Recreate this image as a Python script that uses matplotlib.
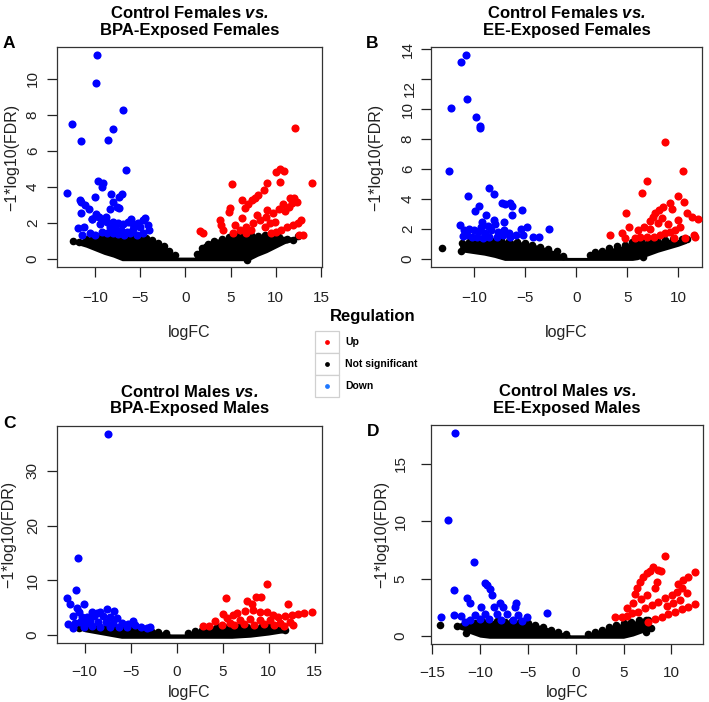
import matplotlib
matplotlib.use('Agg')
import matplotlib.pyplot as plt
from matplotlib.patches import Rectangle
from matplotlib.transforms import ScaledTranslation

plt.rcParams['font.family'] = ['Liberation Sans', 'DejaVu Sans']
plt.rcParams['mathtext.fontset'] = 'custom'
plt.rcParams['mathtext.rm'] = 'Liberation Sans'
plt.rcParams['mathtext.bf'] = 'Liberation Sans:bold'
plt.rcParams['mathtext.it'] = 'Liberation Sans:italic'
plt.rcParams['mathtext.bfit'] = 'Liberation Sans:bold:italic'

UP = '#ff0000'
DOWN = '#0000ff'
NS = '#000000'

# ---- panel A: Control Females vs. BPA-Exposed Females
a_down_x = [-9.74, -9.89, -6.95, -12.5, -8.05, -11.5, -8.6, -6.58, -13.05, -9.63, -9.1, -9.2,
            -8.2, -7.06, -7.35, -10.0, -11.7, -11.5, -8.05, -7.6, -11.1, -10.7, -11.5, -7.3,
            -8.3, -4.49, -4.67, -9.85, -9.56, -9.08, -8.71, -7.98, -7.43, -6.88, -6.32, -5.96,
            -5.22, -11.9, -11.2, -10.37, -9.45, -8.35, -7.79, -7.17, -6.51, -5.77, -5.04, -4.12,
            -4.04, -4.67, -10.55, -9.96, -9.26, -8.71, -7.98, -7.43, -6.8, -6.14, -5.4, -11.4,
            -9.9, -10.3, -8.8, -6.0, -5.5]
a_down_y = [11.29, 9.76, 8.25, 7.46, 7.2, 6.53, 6.58, 4.93, 3.68, 4.34, 4.2, 3.99,
            3.6, 3.58, 3.44, 3.42, 3.29, 3.16, 3.13, 2.85, 2.98, 2.76, 2.57, 2.8,
            2.76, 2.24, 2.15, 2.5, 2.32, 2.15, 2.06, 2.06, 2.0, 1.93, 2.06, 1.97,
            2.0, 1.73, 1.75, 2.19, 1.93, 1.78, 1.69, 1.6, 1.51, 1.64, 1.75, 1.88,
            1.6, 1.42, 1.42, 1.32, 1.51, 1.45, 1.42, 1.36, 1.3, 1.42, 1.32, 1.3,
            2.4, 2.2, 2.3, 2.2, 1.9]
a_up_x = [12.1, 14.04, 10.04, 10.48, 10.88, 10.44, 8.97, 5.15, 8.0, 8.68, 7.65, 7.35, 6.9,
          6.3, 6.54, 4.9, 4.8, 11.6, 11.95, 10.8, 10.4, 9.67, 8.93, 8.2, 7.46, 6.73, 5.99,
          5.26, 3.79, 3.97, 1.58, 1.95, 4.15, 12.8, 12.4, 11.9, 11.2, 10.6, 10.0, 9.5, 13.0,
          12.6, 9.3, 8.75, 7.3, 6.7, 11.4, 11.0, 11.8, 12.3, 5.5, 9.9, 9.0, 7.9, 6.2]
a_up_y = [7.28, 4.23, 4.82, 4.98, 4.85, 4.25, 4.23, 4.17, 3.53, 3.8, 3.38, 3.25, 3.07,
          3.25, 2.8, 2.8, 2.6, 3.35, 3.35, 3.03, 2.74, 2.52, 2.33, 2.15, 1.97, 1.78, 1.6,
          1.42, 2.15, 1.88, 1.56, 1.42, 1.6, 2.15, 2.0, 1.88, 1.75, 1.6, 1.5, 1.42, 1.32,
          1.3, 2.0, 1.78, 1.6, 1.45, 2.85, 2.65, 3.1, 3.15, 1.9, 2.05, 2.7, 2.45, 2.25]
a_ns_x = [-12.5, -12, -11, -10, -9, -8, -7, -6, -5, -4, -3, -2, -1.5, -1, 1, 1.5, 2, 3, 4,
          5, 6, 7, 8, 9, 10, 11, 12, 12.6]
a_ns_top = [1.0, 1.0, 1.15, 1.25, 1.3, 1.3, 1.3, 1.3, 1.25, 1.2, 0.95, 0.6, 0.35, 0.1, 0.1,
            0.55, 0.85, 1.05, 1.15, 1.25, 1.3, 1.3, 1.3, 1.3, 1.3, 1.25, 1.2, 1.25]
a_ns_low = [0.9, 0.8, 0.65, 0.45, 0.25, 0.1, -0.1, -0.1, -0.1, -0.1, -0.1, -0.1, -0.1, -0.1,
            -0.1, -0.1, -0.1, -0.1, -0.1, -0.1, -0.1, -0.1, 0.15, 0.35, 0.6, 0.85, 1.0, 1.15]
a_nsp_x = [-12.4, -11.8, -11, -10.2, -9.5, -8.7, -8, -7.2, -6.5, -5.8, -5, -4.4, -3.7, -3.0,
           -2.4, -1.8, -1.2, 1.3, 1.8, 2.5, 3.2, 4.0, 4.8, 5.6, 6.4, 7.2, 8, 8.8, 9.6, 10.4,
           11.2, 11.9, 12.5, 6.8]
a_nsp_y = [0.98, 0.95, 1.1, 1.2, 1.28, 1.3, 1.25, 1.3, 1.25, 1.3, 1.2, 1.15, 1.05, 0.9,
           0.7, 0.45, 0.2, 0.25, 0.6, 0.85, 1.0, 1.1, 1.2, 1.3, 1.25, 1.3, 1.25, 1.3, 1.25, 1.2,
           1.1, 1.05, 1.25, -0.05]

# ---- panel B: Control Females vs. EE-Exposed Females
b_down_x = [-10.78, -11.24, -10.65, -12.2, -9.77, -9.41, -9.38, -12.4, -8.53, -8.01, -10.55,
            -7.26, -6.94, -6.51, -6.29, -9.51, -9.87, -5.31, -6.29, -8.83, -8.08, -9.22, -7.04,
            -11.34, -2.7, -4.82, -5.4, -11.0, -10.5, -10.0, -9.5, -8.9, -8.3, -7.6, -7.1, -6.6,
            -5.9, -5.2, -4.2, -3.6, -10.7, -10.2, -9.7, -9.1, -8.5, -7.7, -7.2, -6.5, -11.1,
            -9.3, -8.6, -7.9]
b_down_y = [13.6, 13.16, 10.66, 10.1, 9.5, 8.9, 8.73, 5.85, 4.74, 4.34, 4.19,
            3.74, 3.66, 3.74, 3.54, 3.5, 3.21, 3.26, 2.9, 2.92, 2.59, 2.48, 2.48,
            2.26, 2.02, 2.15, 2.0, 1.93, 1.97, 1.93, 1.86, 1.71, 1.93, 1.82, 1.9, 1.71,
            1.6, 1.6, 1.44, 1.48, 1.6, 1.48, 1.44, 1.37, 1.44, 1.48, 1.6, 1.44, 1.55,
            2.1, 2.2, 2.3]
b_up_x = [8.7, 10.42, 6.9, 6.48, 9.93, 10.5, 9.19, 8.53, 8.05, 7.72, 7.49, 7.23, 4.89, 10.8,
          11.3, 11.9, 8.37, 6.58, 6.09, 5.21, 4.46, 3.26, 4.79, 10.16, 9.67, 9.19, 8.7, 8.2,
          7.56, 6.9, 6.25, 5.77, 11.47, 11.6, 10.6, 9.6, 9.0, 8.0, 7.2, 10.0, 9.4]
b_up_y = [7.8, 5.85, 5.18, 4.43, 4.23, 3.81, 3.74, 3.48, 3.26, 3.03, 2.81, 2.55, 3.03, 3.03,
          2.81, 2.64, 2.7, 2.15, 1.93, 2.1, 1.71, 1.57, 1.37, 2.15, 1.93, 1.82, 1.71, 1.6,
          1.48, 1.44, 1.44, 1.42, 1.6, 1.44, 1.37, 1.4, 2.3, 2.4, 2.0, 2.6, 3.3]
b_ns_x = [-11.4, -11, -10, -9, -8, -7, -6, -5, -4, -3, -2, -1.2, -0.8, 1.0, 1.5, 2, 3, 4, 5,
          5.5, 6, 7, 8, 9, 10, 10.8]
b_ns_top = [1.0, 1.15, 1.2, 1.25, 1.25, 1.25, 1.2, 1.1, 0.95, 0.75, 0.5, 0.2, 0.1, 0.1, 0.3,
            0.45, 0.65, 0.8, 0.95, 1.15, 1.2, 1.2, 1.25, 1.3, 1.3, 1.3]
b_ns_low = [0.5, 0.45, 0.35, 0.25, 0.1, -0.1, -0.1, -0.1, -0.1, -0.1, -0.1, -0.1, -0.1, -0.1,
            -0.1, -0.1, -0.1, -0.1, -0.1, -0.1, -0.05, 0.2, 0.45, 0.65, 0.85, 1.05]
b_nsp_x = [-13.1, -11.3, -11.2, -10.5, -9.8, -9, -8.2, -7.4, -6.6, -5.8, -5, -4.3, -3.5, -2.8,
           -1.9, -1.3, 1.3, 1.8, 2.5, 3.2, 4.0, 4.8, 5.5, 6.3, 7.1, 7.9, 8.7, 9.5, 10.3, 10.8,
           6.5]
b_nsp_y = [0.71, 0.5, 1.05, 1.15, 1.2, 1.25, 1.2, 1.25, 1.2, 1.15, 1.05, 0.95, 0.8, 0.65,
           0.5, 0.2, 0.25, 0.45, 0.55, 0.7, 0.85, 0.95, 1.15, 1.2, 1.2, 1.25, 1.25, 1.3, 1.3,
           1.3, 0.1]

# ---- panel C: Control Males vs. BPA-Exposed Males
c_down_x = [-7.43, -10.76, -10.98, -11.96, -11.6, -10.04, -10.87, -7.54, -6.78, -10.6, -9.24,
            -8.7, -8.33, -11.3, -10.3, -9.7, -8.95, -7.97, -7.25, -6.52, -4.78, -11.78, -11.05,
            -10.5, -9.86, -9.42, -8.5, -7.68, -6.88, -5.98, -5.25, -4.53, -2.9, -11.23, -10.1,
            -9.2, -8.3, -7.2, -6.3, -5.4, -3.9, -3.2]
c_down_y = [36.76, 14.12, 8.2, 6.7, 5.6, 5.6, 5.0, 4.7, 4.4, 4.26, 4.26,
            4.08, 4.26, 3.53, 3.23, 3.35, 3.47, 3.47, 3.23, 3.04, 2.56, 2.0, 2.13,
            2.43, 2.25, 2.56, 2.43, 2.31, 2.25, 2.13, 1.95, 1.83, 1.52, 1.22, 1.52,
            1.64, 1.52, 1.52, 1.4, 1.4, 1.4, 1.3]
c_up_x = [9.78, 12.14, 5.33, 7.6, 8.62, 9.17, 8.22, 14.67, 13.84, 13.22, 12.5, 11.78, 11.05,
          10.5, 9.78, 9.06, 8.33, 7.43, 6.59, 6.16, 5.07, 5.43, 4.17, 2.9, 12.68, 12.32, 6.88,
          7.97, 9.06, 10.14, 11.23, 5.8, 4.89, 6.2, 7.3, 8.4, 9.5, 10.6, 11.7, 3.5]
c_up_y = [9.31, 5.6, 6.82, 6.2, 6.88, 6.88, 5.6, 4.14, 4.08, 3.77, 3.65, 3.47, 3.23,
          3.65, 4.26, 4.26, 4.56, 4.44, 4.08, 3.65, 3.83, 3.04, 2.56, 1.64, 1.83, 2.43, 2.74,
          2.86, 2.74, 2.74, 2.25, 2.25, 1.83, 1.83, 1.95, 1.83, 1.95, 1.83, 1.64, 1.7]
c_ns_x = [-10.5, -10, -9, -8, -7, -6, -5, -4, -3, -2, -1.2, -0.6, 0.8, 1.5, 2.5, 3.5, 4.5, 6,
          8, 10, 11.5, 12]
c_ns_top = [1.5, 1.7, 1.75, 1.75, 1.7, 1.6, 1.5, 1.35, 1.1, 0.8, 0.4, 0.2, 0.2, 0.5, 0.9, 1.3,
            1.5, 1.7, 1.75, 1.7, 1.5, 1.2]
c_ns_low = [0.9, 0.6, 0.3, 0.0, -0.3, -0.6, -0.6, -0.6, -0.6, -0.6, -0.6, -0.6, -0.6, -0.6,
            -0.6, -0.6, -0.6, -0.6, -0.4, 0.0, 0.4, 0.7]
c_nsp_x = [-10.6, -10, -9.2, -8.4, -7.6, -6.8, -6, -5.2, -4.4, -3.6, -2.8, -2, -1.2, 1.2, 2,
           2.8, 3.6, 4.4, 5.2, 6, 6.8, 7.6, 8.4, 9.2, 10, 10.8, 11.5, 11.8]
c_nsp_y = [1.3, 1.45, 1.55, 1.5, 1.55, 1.5, 1.4, 1.3, 1.2, 1.0, 0.8, 0.55, 0.3, 0.3, 0.65,
           1.0, 1.25, 1.4, 1.5, 1.55, 1.5, 1.55, 1.5, 1.55, 1.45, 1.35, 1.1, 0.9]

# ---- panel D: Control Males vs. EE-Exposed Males
d_down_x = [-12.58, -13.28, -10.63, -12.75, -9.48, -9.23, -8.95, -8.68, -11.39, -11.05, -7.91,
            -7.56, -6.27, -6.34, -9.83, -8.54, -3.03, -14.08, -12.75, -11.92, -10.52, -9.48,
            -8.26, -7.21, -5.99, -5.05, -11.05, -10.0, -9.0, -7.74, -6.52, -5.64, -11.57]
d_down_y = [17.67, 10.15, 6.48, 4.04, 4.59, 4.45, 4.07, 3.58, 3.28, 2.85, 2.85,
            2.56, 2.85, 2.56, 2.5, 2.56, 1.98, 1.69, 1.8, 1.74, 1.8, 1.92,
            1.89, 1.92, 1.83, 1.69, 1.4, 1.45, 1.45, 1.4, 1.4, 1.34, 1.25]
d_up_x = [9.34, 8.64, 8.12, 7.77, 8.9, 7.42, 7.07, 6.72, 6.45, 6.2, 12.47, 11.78, 11.25, 10.73,
          11.08, 10.56, 10.03, 9.34, 8.64, 7.94, 7.25, 6.55, 5.85, 5.33, 4.8, 4.11, 8.47, 8.29,
          12.47, 11.78, 11.08, 10.38, 9.69, 8.99, 8.29, 7.6, 6.03, 5.33, 11.6, 10.9, 10.2,
          9.5, 6.8, 7.5]
d_up_y = [6.98, 5.76, 6.05, 5.7, 5.67, 5.47, 5.12, 4.74, 4.16, 3.66, 5.55, 5.17, 4.88, 4.5,
          4.16, 3.87, 3.58, 3.28, 2.99, 2.7, 2.41, 2.12, 1.98, 1.74, 1.63, 1.69, 4.74, 4.16,
          2.76, 2.56, 2.33, 2.12, 1.92, 1.69, 1.45, 1.25, 2.85, 2.41, 3.72, 3.14, 2.85,
          2.6, 3.2, 3.6]
d_ns_x = [-12.5, -12, -11, -10, -9, -8, -7, -6, -5, -4, -3, -2, -1, -0.5, 1, 2, 3, 4, 5, 6, 7,
          7.9]
d_ns_top = [0.85, 0.9, 1.1, 1.3, 1.35, 1.35, 1.3, 1.3, 1.2, 1.0, 0.75, 0.45, 0.2, 0.1, 0.1,
            0.3, 0.6, 0.9, 1.15, 1.3, 1.4, 1.4]
d_ns_low = [0.75, 0.6, 0.2, -0.1, -0.2, -0.2, -0.2, -0.2, -0.2, -0.2, -0.2, -0.2, -0.2, -0.2,
            -0.2, -0.2, -0.2, -0.2, -0.2, 0.0, 0.3, 0.6]
d_nsp_x = [-14.2, -12.4, -11.9, -11.4, -11.2, -10.5, -9.8, -9, -8.2, -7.4, -6.6, -5.8, -5, -4.2,
           -3.4, -2.6, -1.8, -1, 1.3, 2, 2.8, 3.5, 4.2, 5, 5.8, 6.6, 7.3, 7.9, 7.3, 7.6]
d_nsp_y = [0.96, 0.85, 0.85, 0.25, 0.95, 1.15, 1.3, 1.3, 1.3, 1.25, 1.3, 1.2, 1.1, 0.95,
           0.75, 0.55, 0.35, 0.15, 0.2, 0.35, 0.55, 0.75, 0.95, 1.1, 1.25, 1.35, 1.4, 0.7,
           0.38, 1.4]

# layout in pixels: axes box, letter, label centres
panels = [
    dict(letter='A', line1='Control Females', line2='BPA-Exposed Females',
         rect=[57, 47, 322, 267], xlim=(-14.2, 15.1), ylim=(-0.45, 11.75),
         xticks=[-10, -5, 0, 5, 10, 15], yticks=[0, 2, 4, 6, 8, 10],
         down=(a_down_x, a_down_y), up=(a_up_x, a_up_y),
         ns=(a_ns_x, a_ns_top, a_ns_low), nsp=(a_nsp_x, a_nsp_y),
         letter_xy=(3, 44), xpad=10.4, ypad=5.4, xlab_y=333, ylab_x=11.5),
    dict(letter='B', line1='Control Females', line2='EE-Exposed Females',
         rect=[431, 47, 702, 267], xlim=(-14.2, 12.3), ylim=(-0.54, 14.14),
         xticks=[-10, -5, 0, 5, 10], yticks=[0, 2, 4, 6, 8, 10, 12, 14],
         down=(b_down_x, b_down_y), up=(b_up_x, b_up_y),
         ns=(b_ns_x, b_ns_top, b_ns_low), nsp=(b_nsp_x, b_nsp_y),
         letter_xy=(366, 44), xpad=10.4, ypad=4.7, xlab_y=333, ylab_x=376),
    dict(letter='C', line1='Control Males', line2='BPA-Exposed Males',
         rect=[57, 426, 322, 643], xlim=(-13.0, 15.8), ylim=(-1.46, 38.2),
         xticks=[-10, -5, 0, 5, 10, 15], yticks=[0, 10, 20, 30],
         down=(c_down_x, c_down_y), up=(c_up_x, c_up_y),
         ns=(c_ns_x, c_ns_top, c_ns_low), nsp=(c_nsp_x, c_nsp_y),
         letter_xy=(3, 424), xpad=9, ypad=5.4, xlab_y=692, ylab_x=9),
    dict(letter='D', line1='Control Males', line2='EE-Exposed Males',
         rect=[431, 425, 703, 644], xlim=(-15.1, 13.3), ylim=(-0.7, 18.4),
         xticks=[-15, -10, -5, 0, 5, 10], yticks=[0, 5, 10, 15],
         down=(d_down_x, d_down_y), up=(d_up_x, d_up_y),
         ns=(d_ns_x, d_ns_top, d_ns_low), nsp=(d_nsp_x, d_nsp_y),
         letter_xy=(367, 431), xpad=9, ypad=10, xlab_y=692, ylab_x=382),
]

W, H = 709, 702
fig = plt.figure(figsize=(W / 100, H / 100), dpi=100)
fig.patch.set_facecolor('white')
TXT = '#222222'

for p in panels:
    x0, y0, x1, y1 = p['rect']
    ax = fig.add_axes([x0 / W, 1 - y1 / H, (x1 - x0) / W, (y1 - y0) / H])
    nx, ntop, nlow = p['ns']
    ax.fill_between(nx, nlow, ntop, color=NS, linewidth=0, zorder=1)
    ax.scatter(p['nsp'][0], p['nsp'][1], s=30, color=NS, linewidths=0, zorder=2)
    ax.scatter(p['down'][0], p['down'][1], s=34, color=DOWN, linewidths=0, zorder=3)
    ax.scatter(p['up'][0], p['up'][1], s=34, color=UP, linewidths=0, zorder=3)
    ax.set_xlim(*p['xlim'])
    ax.set_ylim(*p['ylim'])
    ax.set_xticks(p['xticks'])
    ax.set_yticks(p['yticks'])
    ylabels = [str(v) for v in p['yticks']]
    if p['letter'] == 'B':
        # the "12" label sits low, overlapping "10" in the original
        ylabels[ylabels.index('12')] = ''
    ax.set_yticklabels(ylabels)
    ax.tick_params(direction='out', length=7, width=0.9, colors=TXT, labelsize=11)
    ax.tick_params(axis='x', pad=p['xpad'])
    ax.tick_params(axis='y', pad=p['ypad'])
    for lab in ax.get_yticklabels():
        lab.set_rotation(90)
        lab.set_va('center')
    if p['letter'] == 'B':
        ax.text(0, 12, '12', fontsize=11, color=TXT, rotation=90, ha='center', va='center',
                transform=ax.get_yaxis_transform()
                + ScaledTranslation(-21 / 100, -9 / 100, fig.dpi_scale_trans))
    for sp in ax.spines.values():
        sp.set_color('#333333')
        sp.set_linewidth(0.9)
    ax.set_xlabel('logFC', fontsize=11.5, color=TXT)
    ax.xaxis.set_label_coords(0.5, -(p['xlab_y'] - y1) / (y1 - y0))
    ax.xaxis.label.set_va('center')
    ax.set_ylabel('\u22121*log10(FDR)', fontsize=11.5, color=TXT)
    ax.yaxis.set_label_coords((p['ylab_x'] - x0) / (x1 - x0), 0.5)
    ax.yaxis.label.set_va('center')
    ax.set_title(p['line1'] + r' $\mathbfit{vs.}$' + '\n' + p['line2'],
                 fontsize=12, fontweight='bold', linespacing=1.15, pad=9)
    fig.text(p['letter_xy'][0] / W, 1 - p['letter_xy'][1] / H, p['letter'],
             fontsize=12.5, fontweight='bold', ha='left', va='center')

# legend
lax = fig.add_axes([300 / W, 1 - 400 / H, 130 / W, 92 / H])
lax.set_xlim(300, 430)
lax.set_ylim(400, 308)
lax.axis('off')
lax.text(330, 317, 'Regulation', fontsize=12, fontweight='bold', ha='left', va='center')
leg_labels = ['Up', 'Not significant', 'Down']
leg_colors = [UP, NS, '#1f78ff']
for i, (lab, col) in enumerate(zip(leg_labels, leg_colors)):
    top = 331 + 22 * i
    lax.add_patch(Rectangle((315, top), 24, 22, facecolor='white', edgecolor='#d0d0d0',
                            linewidth=0.9))
    lax.scatter([327], [top + 11], s=12, color=col, linewidths=0)
    lax.text(345, top + 11, lab, fontsize=7.5, fontweight='bold', ha='left', va='center')

fig.savefig('out.png', dpi=100)
